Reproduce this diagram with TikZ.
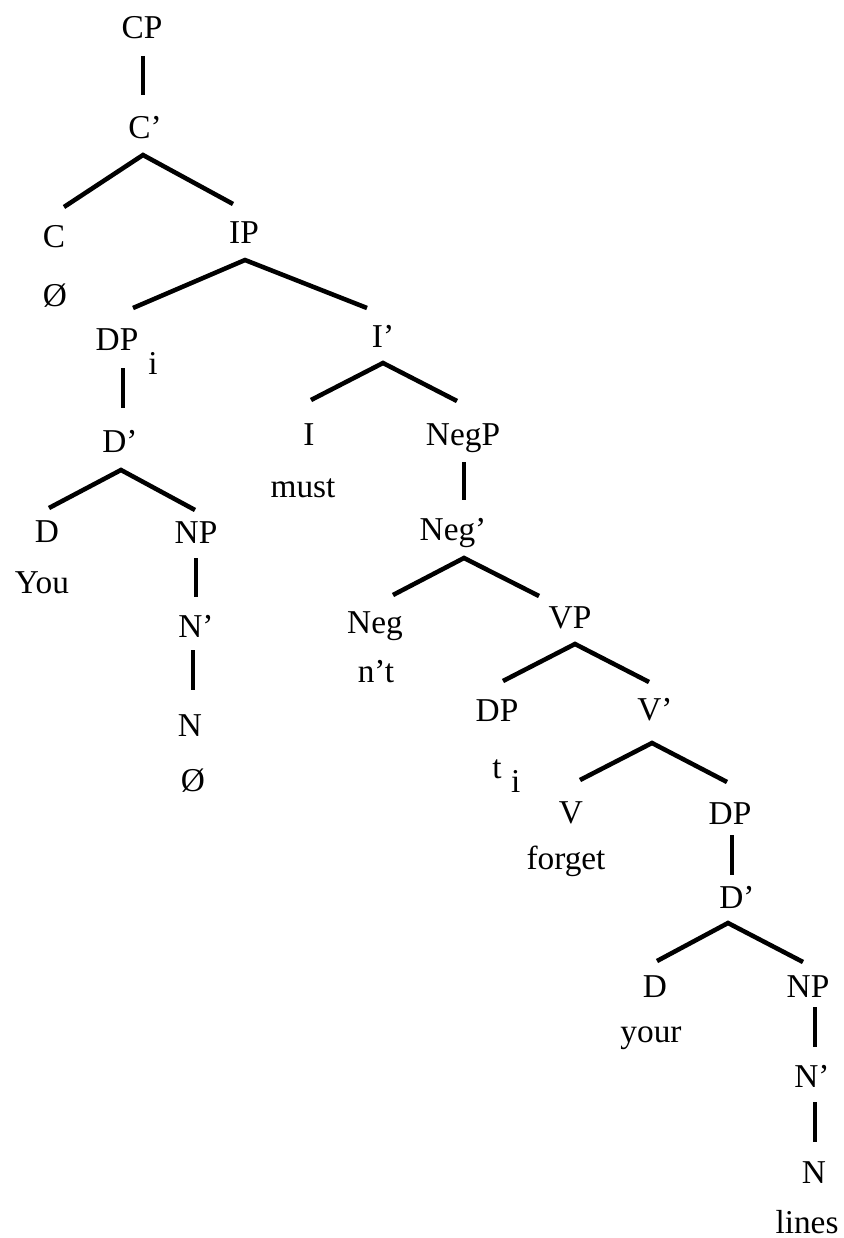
\documentclass[tikz,border=0pt]{standalone}
\usepackage{fontspec}
\setmainfont{Liberation Serif}
\begin{document}
\begin{tikzpicture}[x=0.75pt,y=-0.75pt,
  lbl/.style={anchor=base, inner sep=0pt, font=\fontsize{25}{29}\selectfont},
  edge/.style={line width=3.4pt, line cap=butt, line join=miter}]
\useasboundingbox (0,0) rectangle (843,1238);
% ---- labels ----
\node[lbl] (cp)     at (142,39)   {CP};
\node[lbl] (cbar)   at (145,138)  {C’};
\node[lbl] (c)      at (54,247)   {C};
\node[lbl] (cnull)  at (55,306)   {Ø};
\node[lbl] (ip)     at (244,243)  {IP};
\node[lbl] (dpi)    at (117,350)  {DP\rlap{\hspace{7.5pt}\raisebox{-18.7pt}{i}}};
\node[lbl] (ibar)   at (383,347)  {I’};
\node[lbl] (dbarA)  at (120,452)  {D’};
\node[lbl] (i)      at (309,445)  {I};
\node[lbl] (negp)   at (463,445)  {NegP};
\node[lbl] (must)   at (303,497)  {must};
\node[lbl] (dA)     at (47,542)   {D};
\node[lbl] (npA)    at (196,543)  {NP};
\node[lbl] (negbar) at (453,540)  {Neg’};
\node[lbl] (you)    at (42,593)   {You};
\node[lbl] (nbarA)  at (196,637)  {N’};
\node[lbl] (neg)    at (375,633)  {Neg};
\node[lbl] (vp)     at (570,628)  {VP};
\node[lbl] (nt)     at (376,682)  {n’t};
\node[lbl] (dpB)    at (497,721)  {DP};
\node[lbl] (vbar)   at (655,720)  {V’};
\node[lbl] (nA)     at (190,736)  {N};
\node[lbl] (trace)  at (497,778)  {t\rlap{\hspace{7.2pt}\raisebox{-10.5pt}{i}}};
\node[lbl] (nnull)  at (193,791)  {Ø};
\node[lbl] (v)      at (571,823)  {V};
\node[lbl] (dpC)    at (730,824)  {DP};
\node[lbl] (forget) at (566,869)  {forget};
\node[lbl] (dbarC)  at (737,908)  {D’};
\node[lbl] (dC)     at (655,997)  {D};
\node[lbl] (npC)    at (808,997)  {NP};
\node[lbl] (your)   at (651,1042) {your};
\node[lbl] (nbarC)  at (812,1087) {N’};
\node[lbl] (nC)     at (814,1183) {N};
\node[lbl] (lines)  at (807,1233) {lines};
% ---- connector end points ----
\coordinate (cp-lo)      at (143,56);
\coordinate (cbar-hi)    at (143,95);
\coordinate (cbar-l)     at (64,207);
\coordinate (cbar-apex)  at (143,155);
\coordinate (cbar-r)     at (233,204);
\coordinate (ip-l)       at (133,308);
\coordinate (ip-apex)    at (245,260);
\coordinate (ip-r)       at (367,308);
\coordinate (dpi-lo)     at (123,368);
\coordinate (dbarA-hi)   at (123,408);
\coordinate (dbarA-l)    at (49,508);
\coordinate (dbarA-apex) at (121,470);
\coordinate (dbarA-r)    at (195,510);
\coordinate (npA-lo)     at (196,558);
\coordinate (nbarA-hi)   at (196,597);
\coordinate (nbarA-lo)   at (193,650);
\coordinate (nA-hi)      at (193,690);
\coordinate (ibar-l)     at (311,400);
\coordinate (ibar-apex)  at (383,363);
\coordinate (ibar-r)     at (457,401);
\coordinate (negp-lo)    at (464,462);
\coordinate (negbar-hi)  at (464,500);
\coordinate (negbar-l)   at (393,595);
\coordinate (negbar-apex) at (464,558);
\coordinate (negbar-r)   at (539,596);
\coordinate (vp-l)       at (503,681);
\coordinate (vp-apex)    at (575,644);
\coordinate (vp-r)       at (649,682);
\coordinate (vbar-l)     at (580,780);
\coordinate (vbar-apex)  at (652,743);
\coordinate (vbar-r)     at (727,782);
\coordinate (dpC-lo)     at (732,835);
\coordinate (dbarC-hi)   at (732,875);
\coordinate (dbarC-l)    at (657,961);
\coordinate (dbarC-apex) at (728,923);
\coordinate (dbarC-r)    at (803,962);
\coordinate (npC-lo)     at (815,1007);
\coordinate (nbarC-hi)   at (815,1047);
\coordinate (nbarC-lo)   at (815,1102);
\coordinate (nC-hi)      at (815,1142);
% ---- connectors ----
\draw[edge] (cp-lo) -- (cbar-hi);
\draw[edge] (cbar-l) -- (cbar-apex) -- (cbar-r);
\draw[edge] (ip-l) -- (ip-apex) -- (ip-r);
\draw[edge] (dpi-lo) -- (dbarA-hi);
\draw[edge] (dbarA-l) -- (dbarA-apex) -- (dbarA-r);
\draw[edge] (npA-lo) -- (nbarA-hi);
\draw[edge] (nbarA-lo) -- (nA-hi);
\draw[edge] (ibar-l) -- (ibar-apex) -- (ibar-r);
\draw[edge] (negp-lo) -- (negbar-hi);
\draw[edge] (negbar-l) -- (negbar-apex) -- (negbar-r);
\draw[edge] (vp-l) -- (vp-apex) -- (vp-r);
\draw[edge] (vbar-l) -- (vbar-apex) -- (vbar-r);
\draw[edge] (dpC-lo) -- (dbarC-hi);
\draw[edge] (dbarC-l) -- (dbarC-apex) -- (dbarC-r);
\draw[edge] (npC-lo) -- (nbarC-hi);
\draw[edge] (nbarC-lo) -- (nC-hi);
\end{tikzpicture}
\end{document}
